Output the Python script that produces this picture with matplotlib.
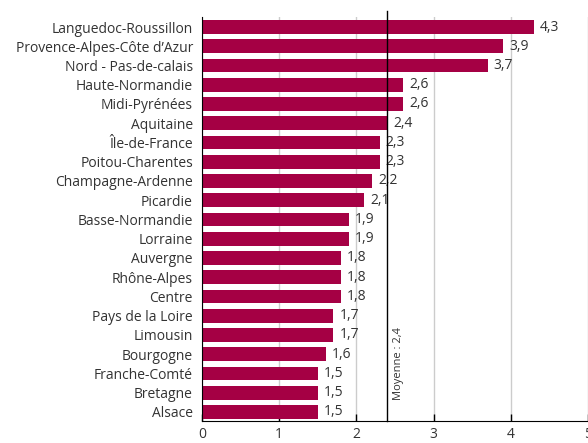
import matplotlib
matplotlib.use("Agg")
import matplotlib.pyplot as plt

regions = ["Languedoc-Roussillon", "Provence-Alpes-Côte d’Azur", "Nord - Pas-de-calais",
           "Haute-Normandie", "Midi-Pyrénées", "Aquitaine", "Île-de-France",
           "Poitou-Charentes", "Champagne-Ardenne", "Picardie", "Basse-Normandie",
           "Lorraine", "Auvergne", "Rhône-Alpes", "Centre", "Pays de la Loire",
           "Limousin", "Bourgogne", "Franche-Comté", "Bretagne", "Alsace"]
values = [4.3, 3.9, 3.7, 2.6, 2.6, 2.4, 2.3, 2.3, 2.2, 2.1, 1.9, 1.9,
          1.8, 1.8, 1.8, 1.7, 1.7, 1.6, 1.5, 1.5, 1.5]
mean_value = 2.4
mean_label = "Moyenne : 2,4"
xticks = [0, 1, 2, 3, 4, 5]

plt.rcParams['font.family'] = ['Open Sans', 'DejaVu Sans']
text_color = '#333333'
bar_color = '#A50044'

fig = plt.figure(figsize=(5.88, 4.43), dpi=100)
ax = fig.add_axes([202/588, 22/443, 1 - 202/588, (421-17)/443])

pos = list(range(len(regions)))
ax.barh(pos, values, height=0.72, color=bar_color, zorder=2)
for p, v in zip(pos, values):
    ax.text(v + 0.08, p, f"{v:.1f}".replace('.', ','), va='center', ha='left',
            fontsize=10, color=text_color, zorder=3)

ax.set_ylim(20.47, -0.52)
ax.set_xlim(0, 5)
ax.set_yticks(pos)
ax.set_yticklabels(regions, fontsize=10, color=text_color)
ax.set_xticks(xticks)
ax.set_xticklabels([str(t) for t in xticks], fontsize=10, color=text_color)
ax.tick_params(axis='y', length=0, pad=6.5)
ax.tick_params(axis='x', direction='in', length=5, width=1, pad=4.5, color='black')

ax.grid(axis='x', color='#cccccc', linewidth=1, zorder=0)
ax.set_axisbelow(True)
for s in ['top', 'right']:
    ax.spines[s].set_visible(False)
ax.spines['left'].set_color('black')
ax.spines['bottom'].set_color('black')

ax.axvline(mean_value, ymin=0, ymax=1.015, color='black', linewidth=1, clip_on=False, zorder=4)
ax.text(mean_value + 0.08, 15.6, mean_label, rotation=90, ha='left', va='top',
        fontsize=8, color=text_color)

fig.savefig("out.png", dpi=100)
